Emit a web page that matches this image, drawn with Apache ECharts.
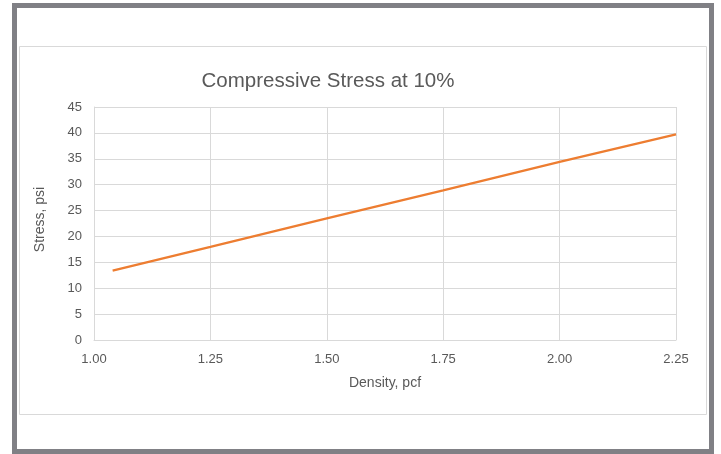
<!DOCTYPE html>
<html>
<head>
<meta charset="utf-8">
<script src="https://cdn.jsdelivr.net/npm/echarts@6/dist/echarts.min.js"></script>
<style>
html,body{margin:0;padding:0;background:#fff;}
#c{width:721px;height:454px;}
</style>
</head>
<body>
<div id="c"></div>
<script>
var density = [1.04, 1.25, 1.50, 1.75, 2.00, 2.25];
var stress = [13.4, 18.0, 23.5, 28.9, 34.4, 39.7];
var xTicks = [1.00, 1.25, 1.50, 1.75, 2.00, 2.25];
var yTicks = [0, 5, 10, 15, 20, 25, 30, 35, 40, 45];

var chart = echarts.init(document.getElementById('c'), null, {renderer: 'canvas'});
var txt = '#595959';
var font = '"Liberation Sans", Arial, sans-serif';
chart.setOption({
  animation: false,
  textStyle: {fontFamily: font},
  title: {
    text: 'Compressive Stress at 10%',
    left: 323, top: 66, textAlign: 'center',
    textStyle: {fontSize: 20.5, fontWeight: 'normal', color: txt, fontFamily: font}
  },
  graphic: [
    {type: 'rect', shape: {x: 14.5, y: 5.5, width: 697, height: 446}, style: {fill: null, stroke: '#808085', lineWidth: 5}, silent: true},
    {type: 'rect', shape: {x: 19.5, y: 46.5, width: 687, height: 368}, style: {fill: null, stroke: '#d9d9d9', lineWidth: 1}, silent: true}
  ],
  grid: {left: 94, right: 45, top: 107, bottom: 114, containLabel: false},
  xAxis: {
    type: 'value', min: xTicks[0], max: xTicks[xTicks.length - 1], interval: 0.25,
    name: 'Density, pcf', nameLocation: 'middle', nameGap: 36,
    nameTextStyle: {fontSize: 14, color: txt},
    axisLine: {show: true, lineStyle: {color: '#d9d9d9'}},
    axisTick: {show: false},
    splitLine: {show: true, lineStyle: {color: '#d9d9d9'}},
    axisLabel: {fontSize: 13, color: txt, margin: 13, formatter: function (v) { return v.toFixed(2); }}
  },
  yAxis: {
    type: 'value', min: yTicks[0], max: yTicks[yTicks.length - 1], interval: 5,
    name: 'Stress, psi', nameLocation: 'middle', nameGap: 47,
    nameTextStyle: {fontSize: 14, color: txt, padding: [0, 0, 0, 8]},
    axisLine: {show: true, lineStyle: {color: '#d9d9d9'}},
    axisTick: {show: false},
    splitLine: {show: true, lineStyle: {color: '#d9d9d9'}},
    axisLabel: {fontSize: 13, color: txt, margin: 12}
  },
  series: [{
    type: 'line',
    data: density.map(function (d, i) { return [d, stress[i]]; }),
    showSymbol: false,
    lineStyle: {color: '#ED7D31', width: 2.25},
    itemStyle: {color: '#ED7D31'}
  }]
});
</script>
</body>
</html>
